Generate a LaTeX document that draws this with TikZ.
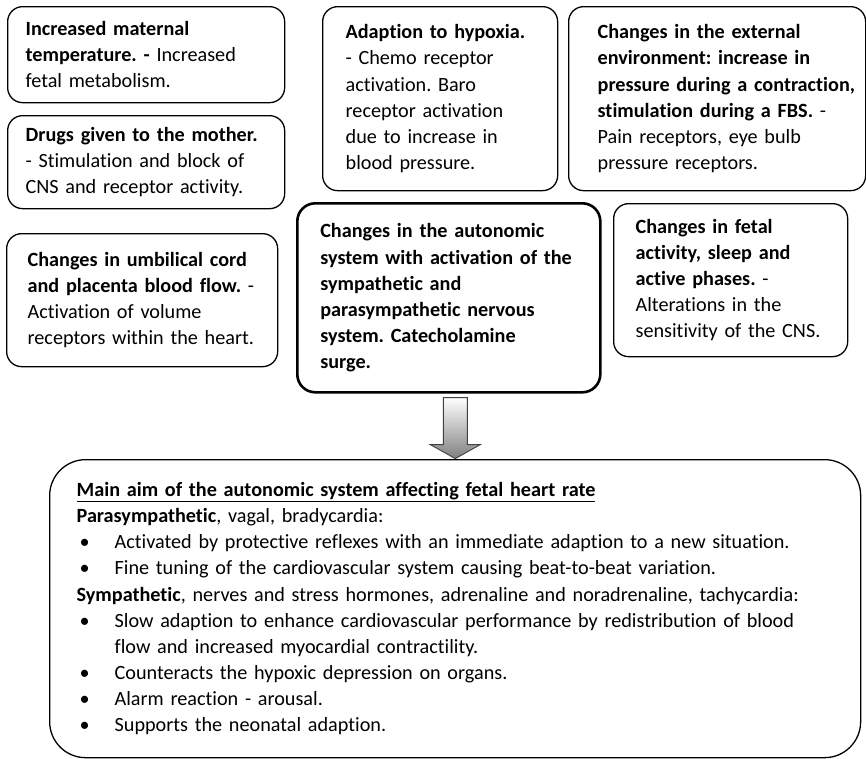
\documentclass[tikz,border=0pt]{standalone}
\usepackage{fontspec}
\setmainfont{Carlito}[Ligatures=NoCommon]
\usetikzlibrary{calc}
\begin{document}
\frenchspacing
\begin{tikzpicture}[x=1pt,y=-1pt,
  every node/.style={font=\fontsize{20.2}{26.1}\selectfont},
  card/.style={draw=black, line width=1.3pt, rounded corners=15pt, anchor=north west,
    align=left, inner xsep=0pt, inner ysep=0pt},
  hub/.style={card, line width=2.6pt, rounded corners=18pt},
  summary/.style={card, rounded corners=36pt},
  blockarrow/.style={draw=black!75, line width=0.9pt, top color=white, bottom color=black!50}
]
\useasboundingbox (0,0) rectangle (866,758);

% cause boxes
\node[card, minimum width=277pt, minimum height=96pt, text width=277pt] (temp) at (7,6)
  {\hspace*{18pt}\parbox[t]{255pt}{\textbf{Increased maternal}\\ \textbf{temperature. -} Increased\\ fetal metabolism.}};
\node[card, minimum width=277pt, minimum height=93pt, text width=277pt] (drugs) at (7,115)
  {\hspace*{18pt}\parbox[t]{255pt}{\textbf{Drugs given to the mother.}\\ - Stimulation and block of\\ CNS and receptor activity.}};
\node[card, minimum width=235pt, minimum height=184pt, text width=235pt] (hypoxia) at (322,6)
  {\hspace*{23pt}\parbox[t]{210pt}{\textbf{Adaption to hypoxia.}\\ - Chemo receptor\\ activation. Baro\\ receptor activation\\ due to increase in\\ blood pressure.}};
\node[card, minimum width=297pt, minimum height=184pt, text width=297pt] (external) at (568,6)
  {\hspace*{29pt}\parbox[t]{266pt}{\textbf{Changes in the external}\\ \textbf{environment: increase in}\\ \textbf{pressure during a contraction,}\\ \textbf{stimulation during a FBS.} -\\ Pain receptors, eye bulb\\ pressure receptors.}};
\node[card, minimum width=271pt, minimum height=133pt, text width=271pt] (cord) at (6,233)
  {\hspace*{21pt}\parbox[t]{248pt}{\textbf{Changes in umbilical cord}\\ \textbf{and placenta blood flow.} -\\ Activation of volume\\ receptors within the heart.}};
\node[hub, minimum width=303pt, minimum height=189pt, text width=303pt] (autonomic) at (296,202)
  {\hspace*{23pt}\parbox[t]{278pt}{\bfseries Changes in the autonomic\\ system with activation of the\\ sympathetic and\\ parasympathetic nervous\\ system. Catecholamine\\ surge.}};
\node[card, minimum width=234pt, minimum height=153pt, text width=234pt] (fetal) at (613,203)
  {\hspace*{22pt}\parbox[t]{210pt}{\textbf{Changes in fetal}\\ \textbf{activity, sleep and}\\ \textbf{active phases.} -\\ Alterations in the\\ sensitivity of the CNS.}};

% summary box
\node[summary, minimum width=811pt, minimum height=298pt, text width=811pt] (aim) at (49,459)
  {\hspace*{27pt}\parbox[t]{782pt}{\underline{\textbf{Main aim of the autonomic system affecting fetal heart rate}}\\
   \textbf{Parasympathetic}, vagal, bradycardia:\\
   \hspace*{3pt}\makebox[35pt][l]{•}Activated by protective reflexes with an immediate adaption to a new situation.\\
   \hspace*{3pt}\makebox[35pt][l]{•}Fine tuning of the cardiovascular system causing beat-to-beat variation.\\
   \textbf{Sympathetic}, nerves and stress hormones, adrenaline and noradrenaline, tachycardia:\\
   \hspace*{3pt}\makebox[35pt][l]{•}Slow adaption to enhance cardiovascular performance by redistribution of blood\\
   \hspace*{38pt}flow and increased myocardial contractility.\\
   \hspace*{3pt}\makebox[35pt][l]{•}Counteracts the hypoxic depression on organs.\\
   \hspace*{3pt}\makebox[35pt][l]{•}Alarm reaction - arousal.\\
   \hspace*{3pt}\makebox[35pt][l]{•}Supports the neonatal adaption.}};

% block arrow from the autonomic box down to the summary
\coordinate (arrtop) at ($(autonomic.south)+(6.5,4)$);
\draw[blockarrow] (arrtop) ++(-12,0) -- ++(24,0) -- ++(0,47) -- ++(13,0)
  -- ++(-25,14) -- ++(-25,-14) -- ++(13,0) -- cycle;
\end{tikzpicture}
\end{document}
